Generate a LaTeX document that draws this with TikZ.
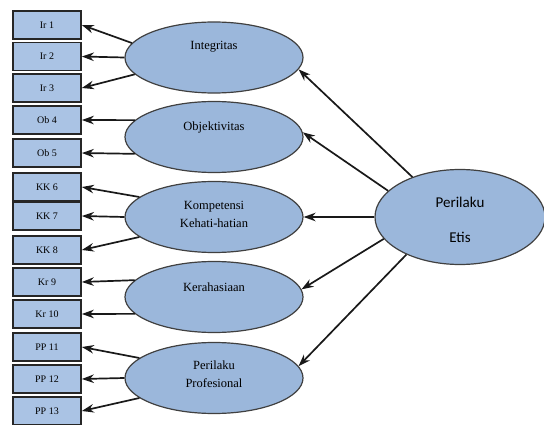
\documentclass[tikz,border=0pt]{standalone}
\usepackage{fontspec}
\setmainfont{Liberation Serif}
\newfontfamily\etisfont{Carlito}
\usetikzlibrary{shapes.geometric,arrows.meta}
\definecolor{boxblue}{RGB}{170,195,228}
\definecolor{ellblue}{RGB}{155,183,219}
\begin{document}
\begin{tikzpicture}[x=1pt,y=-1pt,
  indbox/.style={draw=black!85, line width=1.7pt, fill=boxblue, minimum width=68pt, minimum height=28pt, inner sep=0pt, font=\fontsize{10}{11}\selectfont},
  latent/.style={ellipse, draw=black!75, line width=1.2pt, fill=ellblue, minimum width=178pt, minimum height=71pt, inner sep=0pt},
  ltext/.style={align=center, font=\fontsize{12.5}{18}\selectfont, inner sep=0pt},
  arr/.style={-{Stealth[length=12pt,width=8.5pt]}, line width=1.7pt, black!90}]
\useasboundingbox (0,0) rectangle (544,425);
\fill[white] (0,0) rectangle (544,425);
% indicator boxes
\node[indbox] (ir1) at (47,25) {Ir 1};
\node[indbox] (ir2) at (47,56.5) {Ir 2};
\node[indbox] (ir3) at (47,88) {Ir 3};
\node[indbox] (ob4) at (47,120) {Ob 4};
\node[indbox] (ob5) at (47,153) {Ob 5};
\node[indbox] (kk6) at (47,187) {KK 6};
\node[indbox] (kk7) at (47,216) {KK 7};
\node[indbox] (kk8) at (47,250) {KK 8};
\node[indbox] (kr9) at (47,282) {Kr 9};
\node[indbox] (kr10) at (47,314) {Kr 10};
\node[indbox] (pp11) at (47,347) {PP 11};
\node[indbox] (pp12) at (47,379) {PP 12};
\node[indbox] (pp13) at (47,411) {PP 13};
% latent ellipses
\node[latent] (integ) at (214,57.5) {};
\node[latent] (obj) at (214,137) {};
\node[latent] (komp) at (214,217) {};
\node[latent] (kera) at (214,297) {};
\node[latent] (pp) at (214,378) {};
\node[ellipse, draw=black!75, line width=1.2pt, fill=ellblue, minimum width=170pt, minimum height=95pt, inner sep=0pt] (etis) at (460,217) {};
% texts
\node[ltext] (tinteg) at (214,47) {Integritas};
\node[ltext] (tobj) at (214,127) {Objektivitas};
\node[ltext] (tkomp) at (214,214) {Kompetensi\\Kehati-hatian};
\node[ltext] (tkera) at (214,287) {Kerahasiaan};
\node[ltext] (tpp) at (214,374) {Perilaku\\Profesional};
\node[align=center, inner sep=0pt, font=\etisfont\fontsize{15}{35}\selectfont] (tetis) at (460,220) {Perilaku\\Etis};
% etis to latent
\draw[arr] (etis.140) -- (integ.-8);
\draw[arr] (etis.160) -- (obj.3);
\draw[arr] (etis.180) -- (komp.0);
\draw[arr] (etis.196) -- (kera.5);
\draw[arr] (etis.215) -- (pp.8);
% latent to indicators
\draw[arr] (integ.170) -- (ir1.east);
\draw[arr] (integ.180) -- (ir2.east);
\draw[arr] (integ.192) -- (ir3.east);
\draw[arr] (obj.168) -- (ob4.east);
\draw[arr] (obj.192) -- (ob5.east);
\draw[arr] (komp.165) -- (kk6.east);
\draw[arr] (komp.180) -- (kk7.east);
\draw[arr] (komp.195) -- (kk8.east);
\draw[arr] (kera.168) -- (kr9.east);
\draw[arr] (kera.192) -- (kr10.east);
\draw[arr] (pp.165) -- (pp11.east);
\draw[arr] (pp.180) -- (pp12.east);
\draw[arr] (pp.195) -- (pp13.east);
\end{tikzpicture}
\end{document}
